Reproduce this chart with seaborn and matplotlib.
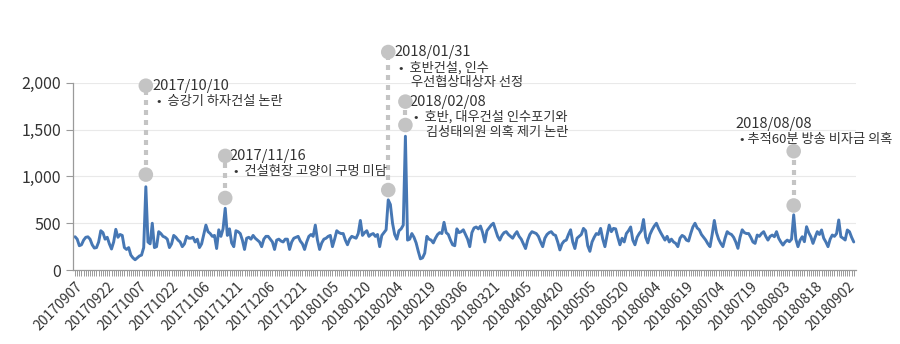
import numpy as np
import pandas as pd
import matplotlib
matplotlib.use("Agg")
import matplotlib.pyplot as plt
import seaborn as sns

# ---- data (daily values, starting 2017-09-07) ----
start_date = "2017-09-07"
vals_sep_oct = [356, 330, 260, 270, 320, 350, 355, 330, 270, 235, 240, 300, 420, 400, 330, 350,
                280, 225, 300, 435, 350, 380, 370, 240, 220, 240, 160, 130, 110, 130, 150, 160,
                240, 890, 300, 280, 500, 240, 250, 410, 390, 360, 350, 330, 240, 280, 370, 350,
                320, 300, 250, 280, 360, 340, 340, 350, 300, 330, 240, 280]
vals_nov_dec = [380, 480, 410, 390, 360, 370, 230, 430, 360, 440, 660, 370, 440, 290, 250, 420,
                410, 390, 320, 220, 340, 350, 330, 370, 340, 320, 300, 250, 330, 360, 360, 330,
                300, 220, 320, 330, 310, 300, 330, 330, 220, 300, 340, 350, 360, 310, 280, 220,
                300, 360, 380, 360, 480, 320, 220, 290, 330, 340, 360, 370]
vals_jan_feb = [250, 330, 420, 400, 390, 390, 320, 270, 330, 360, 350, 340, 390, 530, 370, 400,
                420, 360, 380, 390, 360, 380, 250, 370, 400, 430, 750, 700, 500, 380, 330, 420,
                440, 480, 1430, 320, 330, 390, 350, 290, 200, 120, 130, 180, 360, 330, 320, 290,
                340, 380, 400, 390, 510, 400, 380, 320, 270, 260, 440, 400]
vals_mar_apr = [410, 430, 380, 330, 250, 400, 450, 460, 440, 470, 400, 300, 420, 450, 480, 500,
                430, 360, 320, 370, 400, 410, 380, 360, 340, 380, 410, 360, 330, 280, 230, 320,
                380, 410, 400, 390, 360, 300, 250, 340, 380, 400, 410, 380, 370, 300, 215, 280,
                310, 320, 380, 430, 300, 230, 340, 360, 380, 445, 420, 260]
vals_may_jun = [200, 300, 350, 390, 380, 445, 330, 250, 370, 480, 410, 445, 440, 350, 270, 340,
                300, 390, 420, 460, 320, 270, 350, 390, 420, 540, 350, 290, 380, 430, 470, 500,
                445, 400, 360, 320, 360, 300, 330, 300, 285, 250, 340, 370, 356, 320, 310, 390,
                460, 500, 450, 430, 380, 350, 320, 280, 250, 380, 530, 400]
vals_jul_sep = [330, 285, 250, 340, 410, 390, 380, 350, 300, 232, 350, 430, 400, 390, 390, 350,
                300, 285, 374, 360, 390, 410, 360, 320, 360, 374, 356, 410, 340, 300, 267, 300,
                320, 303, 330, 590, 330, 250, 320, 356, 303, 463, 400, 356, 285, 350, 410, 380,
                428, 340, 300, 250, 330, 374, 360, 390, 535, 356, 340, 321, 428, 410, 350, 300]

values = vals_sep_oct + vals_nov_dec + vals_jan_feb + vals_mar_apr + vals_may_jun + vals_jul_sep

# annotations
ann_dates = ["2017-10-10", "2017-11-16", "2018-01-31", "2018-02-08", "2018-08-08"]
ann_low = [1020, 770, 855, 1550, 690]
ann_high = [1970, 1220, 2330, 1800, 1270]
ann_titles = ["2017/10/10", "2017/11/16", "2018/01/31", "2018/02/08", "2018/08/08"]
ann_texts = [["•  승강기 하자건설 논란"],
             ["•  건설현장 고양이 구멍 미담"],
             ["•  호반건설, 인수", "    우선협상대상자 선정"],
             ["•  호반, 대우건설 인수포기와", "    김성태의원 의혹 제기 논란"],
             ["• 추적60분 방송 비자금 의혹"]]

dates = pd.date_range(start_date, periods=len(values), freq="D")
df = pd.DataFrame({"day": np.arange(len(values)), "value": values,
                   "label": dates.strftime("%Y%m%d")})

sns.set_theme(style="white")
plt.rcParams["font.family"] = ["Noto Sans CJK KR", "DejaVu Sans"]

fig = plt.figure(figsize=(9, 3.44), dpi=100)
ax = fig.add_axes([0.081, 0.215, 0.870, 0.544])

txt = "#333333"

ax.yaxis.grid(True, color="#e9e9e9", linewidth=0.8)
ax.set_axisbelow(True)

sns.lineplot(data=df, x="day", y="value", ax=ax, color="#4677b4", linewidth=2.1)

# annotation markers
for d, lo, hi in zip(ann_dates, ann_low, ann_high):
    xi = (pd.Timestamp(d) - pd.Timestamp(start_date)).days
    ax.plot([xi, xi], [lo, hi], color="#c4c4c4", linestyle=(0, (1.2, 1.2)),
            linewidth=3, clip_on=False, zorder=3)
    ax.scatter([xi, xi], [lo, hi], s=110, color="#c4c4c4", zorder=4, clip_on=False,
               edgecolors="none")

# text blocks
text_pos = {
    "2017/10/10": (36, 1965),
    "2017/11/16": (72, 1215),
    "2018/01/31": (149, 2330),
    "2018/02/08": (156, 1800),
    "2018/08/08": (308, 1565),
}
for title, lines in zip(ann_titles, ann_texts):
    x0, y0 = text_pos[title]
    ax.text(x0, y0, title, fontsize=10.5, color=txt, va="center", ha="left", clip_on=False)
    for k, line in enumerate(lines):
        ax.text(x0 + 2, y0 - 165 * (k + 1), line, fontsize=9.5, color=txt,
                va="center", ha="left", clip_on=False)

ax.set_xlim(-1, 364)
ax.set_ylim(0, 2000)
ticks = list(range(0, len(values), 15))
ax.set_xticks(ticks)
ax.set_xticklabels(df["label"].iloc[ticks], rotation=45, ha="right",
                   rotation_mode="anchor", fontsize=10, color=txt)
ax.set_xticks(np.arange(0, len(values)), minor=True)
ax.set_yticks([0, 500, 1000, 1500, 2000])
ax.set_yticklabels([f"{v:,}" for v in [0, 500, 1000, 1500, 2000]], fontsize=11.5, color=txt)
ax.tick_params(axis="x", which="both", direction="out", length=4, width=0.7,
               color="#9a9a9a", bottom=True, pad=3)
ax.tick_params(axis="y", which="major", direction="out", length=5, width=0.8,
               color="#9a9a9a", left=True)
ax.set_xlabel("")
ax.set_ylabel("")
for s in ["top", "right"]:
    ax.spines[s].set_visible(False)
for s in ["left", "bottom"]:
    ax.spines[s].set_color("#9a9a9a")
    ax.spines[s].set_linewidth(0.9)

fig.savefig("out.png", dpi=100)
